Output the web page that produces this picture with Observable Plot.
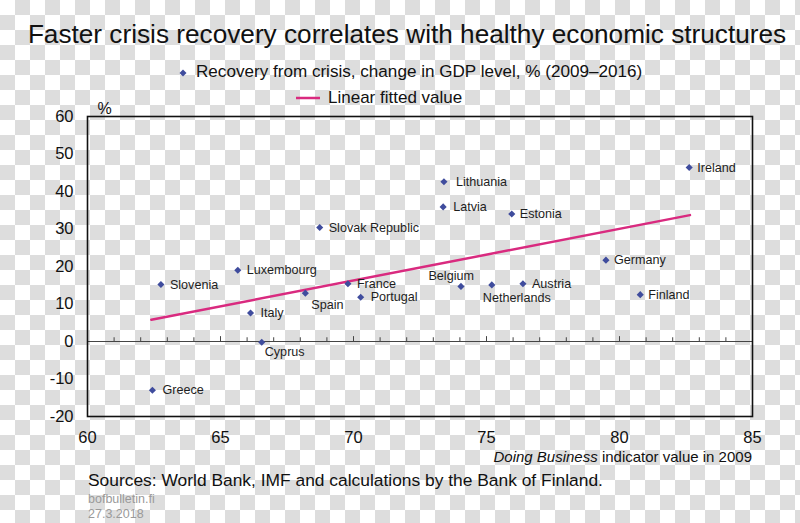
<!DOCTYPE html>
<html>
<head>
<meta charset="utf-8">
<script src="https://cdn.jsdelivr.net/npm/d3@7"></script>
<script src="https://cdn.jsdelivr.net/npm/@observablehq/plot@0.6"></script>
<style>
html, body { margin: 0; padding: 0; }
body {
  width: 800px; height: 523px; overflow: hidden; position: relative;
  font-family: Arial, "Liberation Sans", sans-serif;
  background: repeating-conic-gradient(#dddddd 0 25%, #ffffff 0 50%) 0 0 / 30px 30px;
}
.abs { position: absolute; white-space: nowrap; line-height: 1; color: #111; }
#title { left: 7px; width: 800px; text-align: center; top: 21px; font-size: 26.2px; }
#leg1 { left: 178px; top: 62.7px; font-size: 17.1px; }
#leg2 { left: 296px; top: 88.7px; font-size: 17px; }
#leg1 svg, #leg2 svg { vertical-align: baseline; }
#chart { position: absolute; left: 0; top: 96px; }
#xtitle { right: 48px; top: 448.5px; font-size: 15px; }
#sources { left: 88px; top: 471.5px; font-size: 17.4px; }
#site { left: 88px; top: 492.5px; font-size: 12.5px; color: #9a9a9a; }
#date { left: 88px; top: 507.5px; font-size: 12.5px; color: #9a9a9a; }
</style>
</head>
<body>
<div id="title" class="abs">Faster crisis recovery correlates with healthy economic structures</div>
<div id="leg1" class="abs"><svg width="10" height="8" style="margin-right:8px"><path d="M5,0.5L8.5,4L5,7.5L1.5,4Z" fill="#3f4c9d"/></svg>Recovery from crisis, change in GDP level, % (2009–2016)</div>
<div id="leg2" class="abs"><svg width="24" height="6" style="margin-right:8px;vertical-align:2px"><line x1="0" y1="3" x2="24" y2="3" stroke="#d92a7f" stroke-width="2.5"/></svg>Linear fitted value</div>
<div id="chart"></div>
<div id="xtitle" class="abs"><i>Doing Business</i> indicator value in 2009</div>
<div id="sources" class="abs">Sources: World Bank, IMF and calculations by the Bank of Finland.</div>
<div id="site" class="abs">bofbulletin.fi</div>
<div id="date" class="abs">27.3.2018</div>
<script>
// ---- data ----
const countries = ["Slovenia", "Luxembourg", "Slovak Republic", "Italy", "Spain", "France", "Portugal",
  "Cyprus", "Greece", "Belgium", "Netherlands", "Austria", "Lithuania", "Latvia", "Estonia",
  "Germany", "Finland", "Ireland"];
const doingBusiness = [62.76, 65.65, 68.73, 66.13, 68.19, 69.79, 70.27,
  66.55, 62.44, 74.04, 75.20, 76.37, 73.40, 73.37, 75.95,
  79.49, 80.78, 82.62];
const gdpChange = [15.2, 19.0, 30.4, 7.6, 12.9, 15.4, 11.8,
  -0.2, -13.0, 14.7, 15.1, 15.4, 42.6, 35.9, 34.0,
  21.7, 12.5, 46.4];
const fitX = [62.4, 82.65];
const fitY = [5.8, 33.7];
const xTicks = [60, 65, 70, 75, 80, 85];
const yTicks = [-20, -10, 0, 10, 20, 30, 40, 50, 60];

// ---- label placement (layout only) ----
const placement = {
  "Spain": {dx: 6, dy: 12},
  "Netherlands": {dx: -9, dy: 13},
  "Cyprus": {dx: 3, dy: 10},
  "Belgium": {dx: 13, dy: -10, anchor: "end"},
  "Lithuania": {dx: 12},
  "Latvia": {dx: 10},
  "Italy": {dx: 10},
  "Greece": {dx: 10},
  "Portugal": {dx: 10},
  "Ireland": {dx: 8},
  "Estonia": {dx: 8},
  "Germany": {dx: 8},
  "Finland": {dx: 8}
};

const idx = d3.range(countries.length);
const minorTicks = d3.range(61, 85).filter(v => v % 5 !== 0);
const majorTicks = d3.range(61, 85).filter(v => v % 5 === 0);
const fit = fitX.map((x, i) => ({x, y: fitY[i]}));

const labelMarks = idx.map(i => {
  const p = placement[countries[i]] || {};
  return Plot.text([i], {
    x: j => doingBusiness[j], y: j => gdpChange[j], text: j => countries[j],
    textAnchor: p.anchor || "start", dx: p.dx ?? 9, dy: p.dy ?? 0,
    fontSize: 12.6, fill: "#1e1e1e"
  });
});

const chart = Plot.plot({
  width: 800, height: 372,
  marginTop: 20, marginBottom: 52, marginLeft: 87, marginRight: 48,
  style: {fontFamily: "Arial, 'Liberation Sans', sans-serif", fontSize: "16px", color: "#111", background: "transparent", overflow: "visible"},
  x: {domain: [60, 85]},
  y: {domain: [-20, 60]},
  marks: [
    Plot.axisX({ticks: xTicks, tickSize: 0, tickPadding: 15, label: null, fontSize: 16.5, tickFormat: d => String(d)}),
    Plot.axisY({ticks: yTicks, tickSize: 0, tickPadding: 14, label: null, fontSize: 16.5, tickFormat: d => String(d)}),
    Plot.ruleY([0], {stroke: "#444", strokeWidth: 1}),
    Plot.ruleX(minorTicks, {x: d => d, y1: 0, y2: 1.0, stroke: "#444", strokeWidth: 1}),
    Plot.ruleX(majorTicks, {x: d => d, y1: 0, y2: 1.3, stroke: "#444", strokeWidth: 1}),
    Plot.line(fit, {x: "x", y: "y", stroke: "#d92a7f", strokeWidth: 2.5}),
    Plot.dot(idx, {x: i => doingBusiness[i], y: i => gdpChange[i], symbol: "diamond2", r: 3.2, fill: "#3f4c9d", stroke: "none"}),
    ...labelMarks,
    Plot.text(["%"], {frameAnchor: "top-left", dx: 10, dy: -14, fontSize: 16, fill: "#111"}),
    Plot.frame({stroke: "#111", strokeWidth: 1.6})
  ]
});
document.getElementById("chart").appendChild(chart);
</script>
</body>
</html>
